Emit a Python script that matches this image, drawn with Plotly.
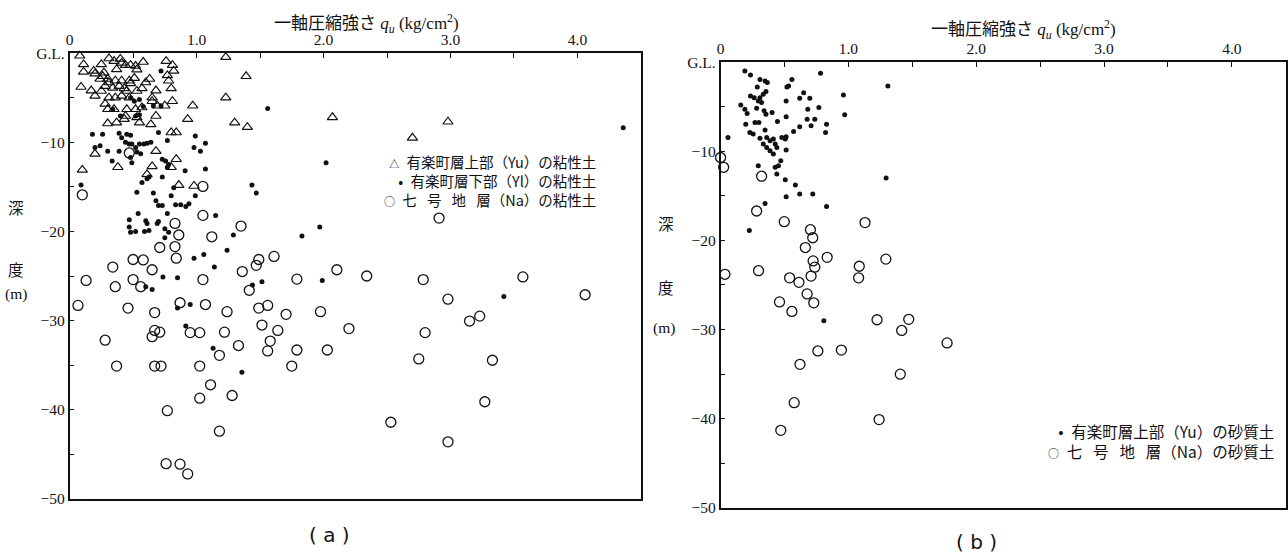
import plotly.graph_objects as go

# ---------------- (a) clay: unconfined compressive strength vs depth ----------------
clay_yu_qu = [0.08, 0.31, 0.35, 0.40, 0.41, 0.44, 0.48, 0.52, 0.53, 0.58, 0.76, 0.81, 0.82,
              0.11, 0.25, 0.37, 0.11, 0.19, 0.20, 0.26, 0.27, 0.24, 0.30, 0.31, 0.36, 0.41,
              0.47, 0.48, 0.51, 0.63, 0.60, 0.77, 0.78, 0.09, 0.17, 0.20, 0.25, 0.28, 0.34,
              0.39, 0.43, 0.45, 0.53, 0.57, 0.68, 0.80, 0.31, 0.36, 0.41, 0.47, 0.65, 0.65,
              0.28, 0.30, 0.35, 0.45, 0.52, 0.57, 0.69, 0.75, 0.81, 0.68, 0.44, 0.43, 0.53,
              0.97, 0.93, 0.30, 0.37, 0.55, 0.64, 0.80, 0.84, 1.30, 1.40, 1.23, 1.39, 1.23,
              2.07, 0.20, 0.68, 0.84, 0.65, 0.61, 0.80, 0.10, 0.38, 0.86, 0.98, 2.98, 2.70]
clay_yu_depth = [-0.3, -0.6, -0.9, -0.65, -1.1, -1.35, -1.35, -1.45, -1.85, -1.0, -0.9, -1.35, -2.0,
                 -1.27, -1.27, -1.83, -2.1, -2.0, -2.3, -2.6, -2.2, -2.9, -2.9, -3.3, -3.1, -3.1,
                 -3.1, -3.4, -2.8, -2.9, -3.3, -2.5, -3.1, -3.8, -4.2, -4.8, -4.25, -3.7, -3.9,
                 -3.7, -3.95, -4.25, -4.25, -3.95, -4.2, -3.95, -5.0, -5.0, -4.8, -5.0, -5.0, -5.4,
                 -5.7, -6.3, -6.3, -6.3, -6.3, -6.1, -5.9, -5.9, -5.4, -7.05, -7.05, -7.4, -7.2,
                 -5.9, -7.4, -7.9, -7.8, -7.8, -8.0, -8.9, -8.9, -7.8, -8.3, -5.0, -2.6, -0.45,
                 -7.2, -11.3, -11.0, -11.9, -12.7, -13.6, -12.8, -13.1, -12.8, -14.8, -14.9, -7.7, -9.5]

clay_yl_qu = [0.72, 0.48, 0.51, 0.55, 0.66, 0.72, 0.34, 0.40, 0.52, 0.55, 0.58, 0.18, 0.26,
              0.39, 0.41, 0.45, 0.48, 0.44, 0.47, 0.49, 0.52, 0.55, 0.585, 0.61, 0.64, 0.70,
              0.77, 0.99, 0.98, 1.03, 1.07, 0.24, 0.20, 0.30, 0.39, 0.53, 0.56, 0.335, 0.48,
              0.49, 0.73, 0.756, 0.78, 0.77, 0.91, 1.07, 0.57, 0.61, 0.625, 0.73, 0.82, 0.53,
              0.66, 0.80, 0.99, 1.56, 2.02, 1.436, 1.47, 0.09, 0.68, 0.70, 0.73, 0.835, 0.875,
              0.915, 0.94, 0.54, 0.77, 1.15, 0.47, 0.60, 0.61, 0.69, 0.70, 0.47, 0.48, 0.52,
              0.59, 0.625, 0.75, 0.78, 0.75, 1.29, 1.83, 1.97, 1.24, 0.98, 1.057, 1.14, 0.735,
              0.85, 1.515, 1.44, 1.99, 0.60, 0.65, 0.85, 0.95, 0.915, 1.13, 1.357, 3.42, 4.36]
clay_yl_depth = [-2.0, -5.0, -5.4, -5.2, -5.9, -5.9, -6.3, -7.05, -7.05, -6.9, -6.0, -9.1, -9.1,
                 -9.0, -9.5, -9.1, -9.2, -10.0, -10.2, -10.2, -10.6, -10.2, -10.2, -10.1, -10.0, -8.9,
                 -9.8, -9.3, -10.6, -11.0, -10.1, -10.4, -10.6, -11.0, -11.0, -11.1, -11.3, -12.1, -11.7,
                 -12.3, -11.9, -12.1, -12.5, -12.8, -13.2, -13.0, -14.5, -14.1, -13.9, -13.9, -15.1, -15.6,
                 -15.7, -16.0, -16.0, -6.2, -12.3, -14.8, -15.7, -14.8, -16.55, -17.1, -17.1, -17.0, -17.0,
                 -17.2, -16.9, -18.0, -18.0, -18.2, -18.7, -18.8, -19.1, -19.1, -18.9, -19.5, -20.1, -20.0,
                 -20.0, -19.9, -19.7, -20.1, -20.7, -20.4, -20.5, -19.5, -22.1, -23.0, -22.6, -24.0, -25.1,
                 -25.2, -25.65, -26.0, -25.5, -26.2, -26.5, -28.6, -28.2, -30.6, -33.1, -35.8, -27.3, -8.36]

clay_na_qu = [0.47, 1.05, 0.10, 1.05, 1.35, 0.83, 0.86, 1.12, 0.71, 0.83, 0.84, 0.50, 0.58,
              0.34, 0.65, 1.49, 1.47, 1.61, 1.36, 2.105, 0.13, 0.50, 0.36, 0.56, 1.05, 1.79,
              1.415, 0.066, 0.46, 0.67, 0.87, 1.07, 1.24, 1.49, 1.56, 1.705, 1.976, 2.20, 1.515,
              1.64, 0.67, 0.71, 0.65, 0.95, 1.025, 1.22, 0.28, 1.33, 1.58, 1.56, 1.79, 2.03,
              1.18, 0.37, 0.67, 0.72, 1.025, 1.75, 1.11, 1.025, 1.28, 0.77, 1.18, 0.76, 0.87,
              0.93, 2.91, 2.34, 2.785, 3.57, 2.98, 4.06, 2.80, 3.15, 3.23, 2.75, 3.33, 3.27,
              2.53, 2.98]
clay_na_depth = [-11.2, -14.95, -15.9, -18.2, -19.4, -19.1, -20.4, -20.6, -21.8, -21.7, -23.0, -23.15, -23.2,
                 -24.0, -24.3, -23.15, -23.8, -22.8, -24.5, -24.3, -25.5, -25.4, -26.2, -26.2, -25.4, -25.35,
                 -26.6, -28.3, -28.6, -29.1, -28.0, -28.2, -29.0, -28.6, -28.3, -29.3, -29.0, -30.9, -30.5,
                 -31.1, -31.1, -31.3, -31.8, -31.35, -31.35, -31.3, -32.2, -32.8, -32.3, -33.4, -33.3, -33.3,
                 -33.9, -35.1, -35.1, -35.1, -35.1, -35.1, -37.2, -38.7, -38.4, -40.1, -42.4, -46.05, -46.1,
                 -47.2, -18.5, -25.0, -25.4, -25.1, -27.6, -27.1, -31.35, -30.05, -29.5, -34.3, -34.45, -39.1,
                 -41.4, -43.6]

# ---------------- (b) sand ----------------
sand_yu_qu = [0.19, 0.234, 0.308, 0.348, 0.366, 0.287, 0.355, 0.234, 0.263, 0.308, 0.334, 0.295,
              0.321, 0.282, 0.158, 0.19, 0.208, 0.34, 0.355, 0.403, 0.197, 0.269, 0.30, 0.348,
              0.229, 0.255, 0.308, 0.361, 0.387, 0.413, 0.334, 0.361, 0.387, 0.413, 0.44, 0.427,
              0.479, 0.506, 0.513, 0.513, 0.471, 0.453, 0.427, 0.44, 0.295, 0.058, 0.445, 0.513,
              0.513, 0.558, 0.532, 0.519, 0.782, 0.961, 0.971, 0.619, 0.65, 0.698, 0.682, 0.769,
              0.677, 0.737, 0.708, 0.619, 0.571, 0.829, 0.821, 1.309, 1.295, 0.506, 0.585, 0.513,
              0.619, 0.721, 0.348, 0.829, 0.225, 0.808]
sand_yu_depth = [-1.0, -1.45, -1.94, -2.12, -2.3, -2.79, -3.31, -3.8, -4.0, -4.0, -3.6, -4.36,
                 -4.54, -5.18, -4.8, -5.29, -5.77, -5.47, -5.85, -5.66, -6.96, -6.77, -6.77, -7.63,
                 -7.89, -8.08, -8.53, -8.45, -8.82, -8.64, -9.2, -9.57, -9.94, -10.3, -9.57, -9.2,
                 -8.45, -8.64, -8.38, -9.87, -11.06, -11.62, -11.8, -12.55, -11.62, -8.45, -6.66, -6.14,
                 -4.36, -1.94, -2.68, -2.79, -1.26, -3.69, -5.92, -4.06, -3.43, -4.06, -5.29, -5.1,
                 -6.4, -6.4, -7.15, -7.26, -7.78, -6.96, -7.89, -2.68, -13.0, -13.2, -13.8, -15.1,
                 -14.8, -14.8, -15.85, -16.2, -18.9, -29.0]

sand_na_qu = [0.0, 0.024, 0.321, 0.282, 0.498, 0.703, 0.721, 1.13, 0.663, 0.724, 0.737, 0.834,
              1.293, 0.034, 0.297, 0.54, 0.613, 0.708, 1.085, 1.08, 0.677, 0.461, 0.729, 0.558,
              1.224, 1.472, 1.417, 1.772, 0.761, 0.945, 0.621, 1.406, 0.576, 1.24, 0.471]
sand_na_depth = [-10.7, -11.8, -12.8, -16.7, -17.9, -18.8, -19.7, -18.0, -20.8, -22.3, -23.0, -21.9,
                 -22.1, -23.8, -23.4, -24.2, -24.7, -24.0, -22.9, -24.2, -26.0, -26.9, -27.0, -27.97,
                 -28.9, -28.85, -30.1, -31.5, -32.4, -32.3, -33.9, -35.0, -38.2, -40.1, -41.3]

# ---------------- axis ticks and labels ----------------
qu_tickvals = [0, 1.0, 2.0, 3.0, 4.0]
qu_ticktext = ["0", "1.0", "2.0", "3.0", "4.0"]
qu_minorvals = [0.5, 1.5, 2.5, 3.5]
depth_tickvals = [0, -10, -20, -30, -40, -50]
depth_ticktext = ["G.L.", "\u221210", "\u221220", "\u221230", "\u221240", "\u221250"]
depth_minorvals = [-5, -15, -25, -35, -45]

clay_names = ["有楽町層上部（Yu）の粘性土", "有楽町層下部（Yl）の粘性土",
              "七\u2002\u2009号\u2002\u2009地\u2002\u2009層（Na）の粘性土"]
sand_names = ["有楽町層上部（Yu）の砂質土",
              "七\u2002\u2009号\u2002\u2009地\u2002\u2009層（Na）の砂質土"]

SERIF = "Liberation Serif, Noto Sans CJK JP, serif"
JP = "Noto Sans CJK JP, sans-serif"
INK = "#111111"

tri = dict(symbol="triangle-up-open", size=9, color=INK, line=dict(width=1.15, color=INK))
dot = dict(symbol="circle", size=5, color=INK, line=dict(width=0))
ring = dict(symbol="circle-open", size=10, color=INK, line=dict(width=1.3, color=INK))

fig = go.Figure()
fig.add_trace(go.Scatter(x=clay_yu_qu, y=clay_yu_depth, mode="markers", marker=tri,
                         name=clay_names[0], xaxis="x", yaxis="y", cliponaxis=False))
fig.add_trace(go.Scatter(x=clay_yl_qu, y=clay_yl_depth, mode="markers", marker=dot,
                         name=clay_names[1], xaxis="x", yaxis="y", cliponaxis=False))
fig.add_trace(go.Scatter(x=clay_na_qu, y=clay_na_depth, mode="markers", marker=ring,
                         name=clay_names[2], xaxis="x", yaxis="y", cliponaxis=False))
fig.add_trace(go.Scatter(x=sand_yu_qu, y=sand_yu_depth, mode="markers", marker=dot,
                         name=sand_names[0], xaxis="x2", yaxis="y2", cliponaxis=False))
fig.add_trace(go.Scatter(x=sand_na_qu, y=sand_na_depth, mode="markers", marker=ring,
                         name=sand_names[1], xaxis="x2", yaxis="y2", cliponaxis=False))

# Figure size; the page adds the browser's default 8px body margin around it.
W, H = 1288, 555
MARGIN = 8
SX = (W + 2 * MARGIN) / W
SY = (H + 2 * MARGIN) / H


def fx(p):
    """Layout position (figure px) for a page position p across the whole page."""
    return p * SX - MARGIN


def fy(p):
    return p * SY - MARGIN


def px_x(p):
    return fx(p) / W


def px_y(p):
    return 1 - fy(p) / H


TICK = dict(ticks="inside", ticklen=5, tickwidth=1.2, tickcolor=INK)


def qu_axis(domain, rng, anchor):
    return dict(domain=domain, range=rng, anchor=anchor, side="top", showgrid=False,
                zeroline=False, showline=True, linecolor=INK, linewidth=1.6, mirror=True,
                tickmode="array", tickvals=qu_tickvals, ticktext=qu_ticktext,
                minor=dict(tickmode="array", tickvals=qu_minorvals, showgrid=False, **TICK),
                tickfont=dict(family=SERIF, size=15.5, color=INK), fixedrange=True, **TICK)


def depth_axis(domain, anchor):
    return dict(domain=domain, range=[-50, 0], anchor=anchor, showgrid=False, zeroline=False,
                showline=True, linecolor=INK, linewidth=1.6, mirror=True,
                tickmode="array", tickvals=depth_tickvals, ticktext=depth_ticktext,
                minor=dict(tickmode="array", tickvals=depth_minorvals, showgrid=False, **TICK),
                tickfont=dict(family=SERIF, size=15.5, color=INK), fixedrange=True, **TICK)


# panel (b) runs to the page edge: clip its domain at 1 and shorten the range to keep the scale
b_left, b_right = fx(719), fx(1286)
b_end = min(b_right, W)
b_range = [0, 4.47 * (b_end - b_left) / (b_right - b_left)]

fig.update_layout(
    width=W, height=H,
    margin=dict(l=0, r=0, t=0, b=0),
    paper_bgcolor="white", plot_bgcolor="white",
    showlegend=False,
    xaxis=qu_axis([px_x(73), px_x(640)], [0, 4.5], "y"),
    yaxis=depth_axis([px_y(499), px_y(52)], "x"),
    xaxis2=qu_axis([b_left / W, b_end / W], b_range, "y2"),
    yaxis2=depth_axis([px_y(508), px_y(61)], "x2"),
)


def note(x, y, text, size=15.5, family=SERIF, xanchor="center", align="center"):
    fig.add_annotation(xref="paper", yref="paper", x=px_x(x), y=px_y(y), text=text,
                       showarrow=False, xanchor=xanchor, yanchor="middle", align=align,
                       font=dict(family=family, size=size, color=INK))


# axis titles
title_txt = "一軸圧縮強さ <i>q<sub>u</sub></i> (kg/cm<sup>2</sup>)"
note(368, 22, title_txt, size=17)
note(1020, 28, title_txt, size=17)
note(20, 206, "深", family=JP)
note(20, 268, "度", family=JP)
note(20, 294, "(m)")
note(665, 222, "深", family=JP)
note(665, 287, "度", family=JP)
note(663, 328, "(m)")

# key for each panel: symbol + description, one right-aligned block per panel
clay_keys = ["<span style='font-size:10px'>△</span>", "•",
             "<span style='font-size:11px'>○</span>"]
note(597, 180, "<br>".join(k + "\u2002" + n for k, n in zip(clay_keys, clay_names)),
     size=14.5, family=JP, xanchor="right", align="right")
sand_keys = ["•", "<span style='font-size:11px'>○</span>"]
note(1270, 441, "<br>".join(k + "\u2002" + n for k, n in zip(sand_keys, sand_names)),
     size=15.5, family=JP, xanchor="right", align="right")

# panel captions
note(331, 535, "( a )", size=20, family="DejaVu Sans, sans-serif")
note(973, 542, "( b )", size=20, family="DejaVu Sans, sans-serif")

fig.write_html("out.html", config=dict(displayModeBar=False))
